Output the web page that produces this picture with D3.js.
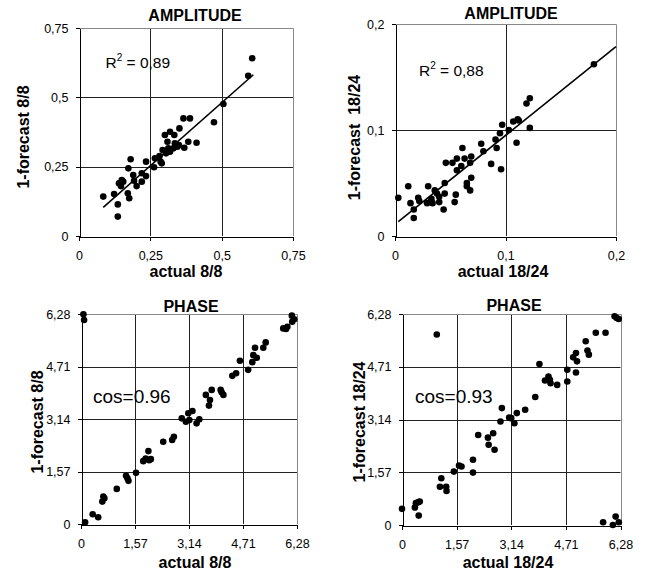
<!DOCTYPE html>
<html><head><meta charset="utf-8">
<script src="https://cdn.jsdelivr.net/npm/d3@7"></script>
<style>body{margin:0;background:#fff}svg{display:block}text{font-family:Arial,"Liberation Sans",sans-serif;fill:#000}</style>
</head><body><svg id="c" width="647" height="572"></svg>
<script>
// ---- data ----
const amp88Actual   = [0.085,0.123,0.136,0.136,0.150,0.147,0.155,0.171,0.176,0.173,0.181,0.190,0.193,0.202,0.220,0.220,0.235,0.235,0.263,0.266,0.282,0.286,0.293,0.305,0.313,0.301,0.310,0.319,0.334,0.336,0.331,0.345,0.352,0.366,0.389,0.369,0.383,0.412,0.473,0.506,0.593,0.607,0.290,0.319,0.350,0.140];
const amp88Forecast = [0.142,0.151,0.114,0.070,0.202,0.180,0.196,0.154,0.136,0.244,0.277,0.220,0.199,0.180,0.226,0.196,0.216,0.268,0.248,0.280,0.288,0.268,0.310,0.298,0.316,0.364,0.340,0.376,0.364,0.334,0.316,0.322,0.388,0.424,0.424,0.318,0.340,0.336,0.410,0.476,0.578,0.641,0.262,0.304,0.328,0.190];
const amp88Trend = [0.909, 0.026];      // slope, intercept
const amp88TrendRange = [0.085, 0.611];

const amp1824Actual   = [0.003,0.012,0.014,0.017,0.017,0.021,0.022,0.030,0.029,0.032,0.033,0.034,0.036,0.038,0.040,0.040,0.044,0.045,0.045,0.046,0.052,0.054,0.055,0.056,0.056,0.060,0.061,0.063,0.065,0.065,0.068,0.069,0.068,0.069,0.078,0.080,0.087,0.091,0.092,0.095,0.096,0.097,0.103,0.107,0.110,0.111,0.112,0.119,0.122,0.122,0.180];
const amp1824Forecast = [0.036,0.047,0.031,0.025,0.017,0.036,0.033,0.047,0.031,0.032,0.035,0.031,0.043,0.040,0.037,0.032,0.025,0.040,0.050,0.069,0.069,0.032,0.039,0.062,0.073,0.066,0.083,0.073,0.050,0.047,0.069,0.075,0.043,0.055,0.087,0.080,0.068,0.091,0.083,0.097,0.063,0.105,0.100,0.108,0.088,0.110,0.109,0.125,0.130,0.102,0.162];
const amp1824Trend = [0.838, 0.011];
const amp1824TrendRange = [0.003, 0.2];

const ph88Actual   = [0.07,0.09,0.12,0.34,0.50,0.62,0.65,0.68,1.04,1.31,1.35,1.38,1.60,1.81,1.88,1.96,1.98,2.03,2.39,2.65,2.70,2.93,3.05,3.12,3.15,3.24,3.36,3.44,3.63,3.72,3.75,3.80,4.06,4.09,4.14,4.40,4.51,4.62,4.86,4.98,5.01,5.06,5.11,5.30,5.37,5.88,5.96,6.00,6.13,6.14,6.20];
const ph88Forecast = [6.27,6.10,0.05,0.29,0.20,0.67,0.82,0.77,1.05,1.44,1.37,1.29,1.53,1.88,1.96,2.18,1.91,1.94,2.46,2.51,2.61,3.16,3.06,3.31,3.11,3.38,3.01,3.13,3.86,3.54,3.71,4.01,4.01,3.94,3.86,4.43,4.51,4.88,4.61,4.84,5.05,5.27,4.97,5.27,5.43,5.85,5.83,5.90,6.23,6.05,6.12];

const ph1824Actual   = [0.00,0.37,0.40,0.47,0.51,0.48,1.00,1.09,1.13,1.27,1.28,1.49,1.64,1.71,2.04,2.04,2.19,2.49,2.47,2.62,2.66,2.83,2.87,3.08,3.14,3.23,3.30,3.54,3.83,3.95,4.11,4.21,4.25,4.27,4.46,4.75,4.75,4.92,5.00,5.00,5.03,5.28,5.33,5.37,5.57,5.85,5.78,6.06,6.11,6.17,6.23,6.14,6.23];
const ph1824Forecast = [0.48,0.52,0.65,0.68,0.70,0.28,5.67,1.14,1.39,1.14,1.01,1.59,1.77,1.74,1.94,1.56,2.68,2.39,2.60,2.73,2.24,3.08,3.48,3.20,3.18,3.03,3.33,3.43,3.81,4.79,4.30,4.42,4.32,4.22,4.17,4.62,4.27,4.99,5.12,4.54,4.87,5.47,5.19,5.07,5.72,5.72,0.08,0.00,6.21,6.16,6.13,0.25,0.08];

const ticks88   = [0, 0.25, 0.5, 0.75];
const ticks1824 = [0, 0.1, 0.2];
const ticksPhase = [0, 1.57, 3.14, 4.71, 6.28];
const titles = ["AMPLITUDE", "AMPLITUDE", "PHASE", "PHASE"];
const xLabels = ["actual 8/8", "actual 18/24", "actual 8/8", "actual 18/24"];
const yLabels = ["1-forecast 8/8", "1-forecast  18/24", "1-forecast 8/8", "1-forecast 18/24"];
const notes = [["R", "2", " = 0,89"], ["R", "2", " = 0,88"], ["cos=0.96"], ["cos=0.93"]];

// ---- layout ----
const panels = [
  {x0:79,  x1:293,   y0:28,  y1:236, dom:[0,0.75], ticks:ticks88,   xs:amp88Actual,  ys:amp88Forecast,  trend:amp88Trend,  tr:amp88TrendRange,
   title:[195,20.7], xl:[186,276.5], yl:[29,137], note:[105.5,68.3], noteSize:15.5},
  {x0:395, x1:616,   y0:24,  y1:236, dom:[0,0.2],  ticks:ticks1824, xs:amp1824Actual, ys:amp1824Forecast, trend:amp1824Trend, tr:amp1824TrendRange,
   title:[511,18.5], xl:[503,276.7], yl:[360,137.5], note:[419,76], noteSize:15.5},
  {x0:81,  x1:297,   y0:314, y1:524, dom:[0,6.28], ticks:ticksPhase, xs:ph88Actual, ys:ph88Forecast,
   title:[191,311.7], xl:[195,568], yl:[42.5,422], note:[93,403.3], noteSize:19},
  {x0:402, x1:620.5, y0:314, y1:525, dom:[0,6.28], ticks:ticksPhase, xs:ph1824Actual, ys:ph1824Forecast,
   title:[514,311], xl:[508,568], yl:[365,422], note:[415,403.3], noteSize:19}
];

const fmt = d => String(d).replace(".", ",");
const svg = d3.select("#c");

panels.forEach((p, i) => {
  const x = d3.scaleLinear().domain(p.dom).range([p.x0, p.x1]);
  const y = d3.scaleLinear().domain(p.dom).range([p.y1, p.y0]);
  const g = svg.append("g");

  // gridlines
  const inner = p.ticks.slice(1, -1);
  g.selectAll(".gv").data(inner).join("line")
    .attr("x1", d => Math.round(x(d)) + 0.5).attr("x2", d => Math.round(x(d)) + 0.5)
    .attr("y1", p.y0).attr("y2", p.y1).attr("stroke", "#222").attr("stroke-width", 1);
  g.selectAll(".gh").data(inner).join("line")
    .attr("y1", d => Math.round(y(d)) + 0.5).attr("y2", d => Math.round(y(d)) + 0.5)
    .attr("x1", p.x0).attr("x2", p.x1).attr("stroke", "#222").attr("stroke-width", 1);

  // plot border top & right
  g.append("path")
    .attr("d", `M${p.x0},${Math.round(p.y0)+0.5}H${Math.round(p.x1)+0.5}V${p.y1}`)
    .attr("fill", "none").attr("stroke", "#888").attr("stroke-width", 1);

  // axes
  const ax = g.append("g").attr("transform", `translate(0,${Math.round(p.y1)+0.5})`)
    .call(d3.axisBottom(x).tickValues(p.ticks).tickFormat(fmt).tickSizeInner(4).tickSizeOuter(0).tickPadding(11));
  const ay = g.append("g").attr("transform", `translate(${Math.round(p.x0)+0.5},0)`)
    .call(d3.axisLeft(y).tickValues(p.ticks).tickFormat(fmt).tickSizeInner(4).tickSizeOuter(0).tickPadding(7));
  [ax, ay].forEach(a => {
    a.selectAll("path,line").attr("stroke", "#000").attr("shape-rendering", "crispEdges");
    a.selectAll("text").attr("font-size", 12.5).attr("fill", "#111")
      .style("font-family", "Arial, 'Liberation Sans', sans-serif");
  });

  // trend line
  if (p.trend) {
    g.append("line")
      .attr("x1", x(p.tr[0])).attr("y1", y(p.trend[0] * p.tr[0] + p.trend[1]))
      .attr("x2", x(p.tr[1])).attr("y2", y(p.trend[0] * p.tr[1] + p.trend[1]))
      .attr("stroke", "#000").attr("stroke-width", 1.6);
  }

  // points
  g.selectAll("circle").data(p.xs.map((v, k) => [v, p.ys[k]])).join("circle")
    .attr("cx", d => x(d[0])).attr("cy", d => y(d[1])).attr("r", 3.3).attr("fill", "#000");

  // title
  g.append("text").attr("x", p.title[0]).attr("y", p.title[1]).attr("text-anchor", "middle")
    .attr("font-weight", "bold").attr("font-size", 16).text(titles[i]);
  // x label
  g.append("text").attr("x", p.xl[0]).attr("y", p.xl[1]).attr("text-anchor", "middle")
    .attr("font-weight", "bold").attr("font-size", 16).text(xLabels[i]);
  // y label
  g.append("text").attr("transform", `translate(${p.yl[0]},${p.yl[1]}) rotate(-90)`)
    .attr("text-anchor", "middle").attr("font-weight", "bold").attr("font-size", 16)
    .attr("xml:space", "preserve").style("white-space", "pre").text(yLabels[i]);

  // annotation
  const n = notes[i];
  const t = g.append("text").attr("x", p.note[0]).attr("y", p.note[1]).attr("font-size", p.noteSize).attr("fill", "#111");
  if (n.length === 3) {
    t.append("tspan").text(n[0]);
    t.append("tspan").attr("font-size", 10).attr("dy", -7).text(n[1]);
    t.append("tspan").attr("dy", 7).style("white-space", "pre").text(n[2]);
  } else {
    t.text(n[0]);
  }
});
</script></body></html>
